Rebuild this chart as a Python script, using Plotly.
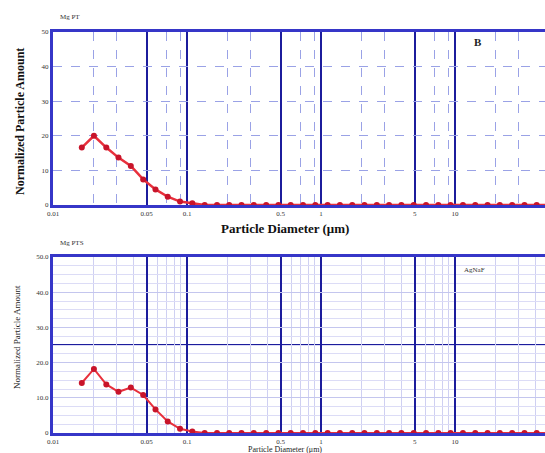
import plotly.graph_objects as go
from plotly.subplots import make_subplots

# Particle size channels (um)
diameter_um = [0.0164, 0.0202, 0.0250, 0.0308, 0.0381, 0.0471, 0.0582, 0.0718,
               0.0887, 0.1096, 0.1355, 0.1675, 0.2065, 0.255, 0.315, 0.390,
               0.481, 0.594, 0.734, 0.907, 1.12, 1.384, 1.71, 2.11, 2.61,
               3.22, 3.98, 4.92, 6.08, 7.51, 9.27, 11.46, 14.16, 17.5, 21.6,
               26.7, 33.0, 40.7, 50.3]

# Normalized amounts for the two samples
amount_top = [16.6, 20.0, 16.6, 13.7, 11.3, 7.4, 4.5, 2.4, 1.0, 0.5] + [0.0] * 29
amount_bottom = [14.2, 18.2, 13.8, 11.7, 12.9, 10.8, 6.7, 3.3, 1.2, 0.4] + [0.0] * 29

x_tick_vals = [0.01, 0.05, 0.1, 0.5, 1, 5, 10, 50]
x_tick_text = ["0.01", "0.05", "0.1", "0.5", "1", "5", "10", "50"]
y_tick_vals = [0, 10, 20, 30, 40, 50]
y_tick_text_top = ["0", "10", "20", "30", "40", "50"]
y_tick_text_bottom = ["0", "10.0", "20.0", "30.0", "40.0", "50.0"]

# sparse minor lines for the upper panel, full 1..9 for the lower one
minor_top = [m * d for d in (0.01, 0.1, 1, 10) for m in (2, 3, 7, 9)]
minor_bottom = [m * d for d in (0.01, 0.1, 1, 10) for m in range(2, 10)]
minor_bottom = [v for v in minor_bottom if v not in x_tick_vals]

SERIF = "Liberation Serif, Times New Roman, serif"
AXIS_BLUE = "#3636c8"
MAJOR_BLUE = "#1c1c9c"
LINE_RED = "#e8303c"
MARK_RED = "#c8142a"

W, H = 545, 453
ML, MR, MT, MB = 53, 0, 32, 20
PW, PH = W - ML - MR, H - MT - MB


def px_x(px):
    return (px - ML) / PW


def px_y(py):
    return (H - MB - py) / PH


fig = make_subplots(rows=2, cols=1, vertical_spacing=0.0)

fig.add_trace(go.Scatter(
    x=diameter_um, y=amount_top, mode="lines+markers",
    line=dict(color=LINE_RED, width=2.5),
    marker=dict(color=MARK_RED, size=6),
    cliponaxis=False, showlegend=False), row=1, col=1)

fig.add_trace(go.Scatter(
    x=diameter_um, y=amount_bottom, mode="lines+markers",
    line=dict(color=LINE_RED, width=2),
    marker=dict(color=MARK_RED, size=6),
    cliponaxis=False, showlegend=False), row=2, col=1)

xrange = [-2, -2 + PW / 134.0]

common_x = dict(
    type="log", range=xrange, tickmode="array", tickvals=x_tick_vals,
    ticktext=x_tick_text, showgrid=True, gridcolor=MAJOR_BLUE, gridwidth=2,
    showline=True, linecolor=AXIS_BLUE, linewidth=3, mirror=True,
    ticks="", tickfont=dict(family=SERIF, size=7, color="#333333"),
    zeroline=False,
)

fig.update_xaxes(**common_x, row=1, col=1,
                 minor=dict(tickmode="array", tickvals=minor_top, showgrid=True,
                            gridcolor="#9aa2e6", gridwidth=1, griddash="dash"))
fig.update_xaxes(**common_x, row=2, col=1,
                 minor=dict(tickmode="array", tickvals=minor_bottom, showgrid=True,
                            gridcolor="#cfd0f2", gridwidth=1))

fig.update_yaxes(range=[0, 50], tickmode="array", tickvals=y_tick_vals,
                 ticktext=y_tick_text_top, showgrid=True, gridcolor="#9aa2e6",
                 griddash="dash", gridwidth=1, showline=True,
                 linecolor=AXIS_BLUE, linewidth=3, ticks="", zeroline=False,
                 tickfont=dict(family=SERIF, size=7, color="#333333"),
                 row=1, col=1)
fig.update_yaxes(range=[0, 50], tickmode="array", tickvals=y_tick_vals,
                 ticktext=y_tick_text_bottom, showgrid=True, gridcolor="#c4c6ee",
                 gridwidth=1, showline=True, linecolor=AXIS_BLUE, linewidth=3,
                 ticks="", zeroline=False,
                 tickfont=dict(family=SERIF, size=7, color="#333333"),
                 minor=dict(dtick=2.5, showgrid=True, gridcolor="#dcdcf6", gridwidth=1),
                 row=2, col=1)

fig.update_layout(
    xaxis=dict(domain=[0, 1]), xaxis2=dict(domain=[0, 1]),
    yaxis=dict(domain=[px_y(205), 1.0]),
    yaxis2=dict(domain=[0.0, px_y(257)]),
)

# heavy reference line across the lower panel
fig.add_shape(type="line", xref="x2 domain", yref="y2", x0=0, x1=1, y0=25, y1=25,
              line=dict(color=MAJOR_BLUE, width=2), layer="below")

annotations = [
    dict(text="<b>Particle Diameter (μm)</b>", x=px_x(285), y=px_y(228),
         font=dict(family=SERIF, size=13, color="#111111"), textangle=0),
    dict(text="Particle Diameter (μm)", x=px_x(285), y=px_y(449),
         font=dict(family=SERIF, size=8, color="#222222"), textangle=0),
    dict(text="<b>Normalized Particle Amount</b>", x=px_x(20), y=px_y(122),
         font=dict(family=SERIF, size=12, color="#111111"), textangle=-90),
    dict(text="Normalized Particle Amount", x=px_x(17), y=px_y(337),
         font=dict(family=SERIF, size=9, color="#222222"), textangle=-90),
    dict(text="Mg PT", x=px_x(58), y=px_y(17), xanchor="left",
         font=dict(family=SERIF, size=7, color="#333333"), textangle=0),
    dict(text="Mg PTS", x=px_x(58), y=px_y(243), xanchor="left",
         font=dict(family=SERIF, size=7, color="#333333"), textangle=0),
    dict(text="<b>B</b>", x=px_x(478), y=px_y(42),
         font=dict(family=SERIF, size=11, color="#222222"), textangle=0),
    dict(text="AgNaF", x=px_x(462), y=px_y(270), xanchor="left",
         font=dict(family=SERIF, size=7, color="#333333"), textangle=0),
]
for a in annotations:
    a.setdefault("xanchor", "center")
    fig.add_annotation(xref="paper", yref="paper", showarrow=False,
                       yanchor="middle", **a)

fig.update_layout(
    width=W, height=H,
    margin=dict(l=ML, r=MR, t=MT, b=MB),
    paper_bgcolor="white", plot_bgcolor="white",
    showlegend=False,
)

fig.write_html("out.html")
